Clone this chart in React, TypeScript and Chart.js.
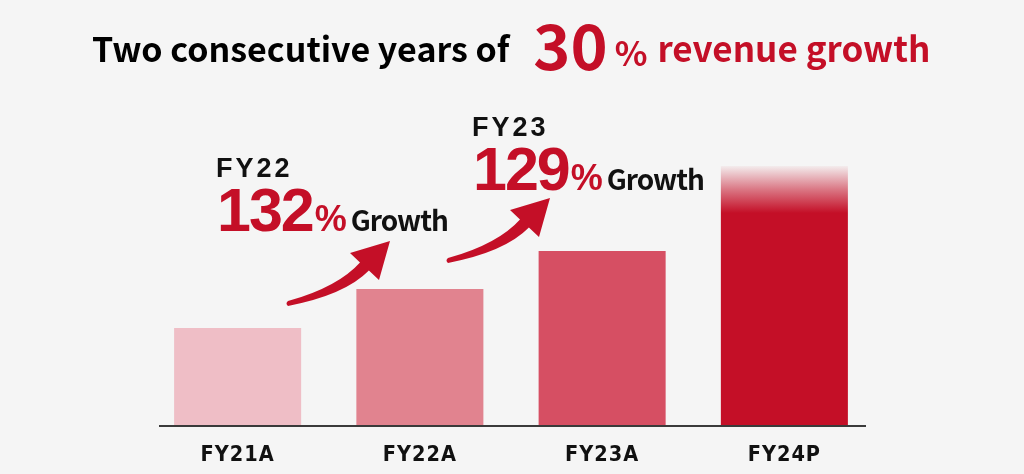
import React, { useEffect, useRef } from "react";
import { Chart, registerables } from "chart.js";

Chart.register(...registerables);

const categories = ["FY21A", "FY22A", "FY23A", "FY24P"];
const revenue = [97, 136, 174, 259];
const barColors = ["#efbec6", "#e1838f", "#d64f63", "#c40f27"];

const titleBlack = "Two consecutive years of";
const titleBig = "30";
const titlePct = "%";
const titleRed = "revenue growth";

const annYears = ["FY22", "FY23"];
const annGrowth = ["132", "129"];
const growthWord = "Growth";

const RED = "#c40f27";
const BG = "#f5f5f5";
const CJK = '"Noto Sans CJK JP", "Noto Sans", sans-serif';
const HEL = '"Liberation Sans", Arial, sans-serif';

function drawArrow(ctx: CanvasRenderingContext2D, x: number, y: number) {
  ctx.save();
  ctx.translate(x, y);
  ctx.fillStyle = RED;
  ctx.beginPath();
  ctx.moveTo(0, -2);
  ctx.quadraticCurveTo(50, -16, 72, -40.6);
  ctx.lineTo(62, -50);
  ctx.lineTo(102, -62);
  ctx.lineTo(91, -23);
  ctx.lineTo(80.9, -32.4);
  ctx.quadraticCurveTo(57, -8, 0, 3);
  ctx.quadraticCurveTo(-3, 0.5, 0, -2);
  ctx.closePath();
  ctx.fill();
  ctx.restore();
}

function drawAnnotation(ctx: CanvasRenderingContext2D, x: number, baseline: number, year: string, num: string) {
  const c = ctx as any;
  ctx.save();
  ctx.textBaseline = "alphabetic";
  ctx.textAlign = "left";
  ctx.fillStyle = "#111";
  ctx.font = `bold 27px ${HEL}`;
  c.letterSpacing = "3px";
  ctx.fillText(year, x - 1, baseline - 54);
  ctx.fillStyle = RED;
  ctx.font = `bold 61px ${HEL}`;
  c.letterSpacing = "-2px";
  ctx.fillText(num, x, baseline);
  const w1 = ctx.measureText(num).width;
  ctx.font = `bold 36px ${HEL}`;
  c.letterSpacing = "0px";
  ctx.fillText("%", x + w1 + 2, baseline);
  const w2 = ctx.measureText("%").width;
  ctx.fillStyle = "#111";
  ctx.font = `bold 28px ${CJK}`;
  c.letterSpacing = "-1px";
  ctx.fillText(growthWord, x + w1 + w2 + 6, baseline);
  ctx.restore();
}

const decorPlugin = {
  id: "decor",
  beforeDraw(chart: any) {
    const ctx = chart.ctx as CanvasRenderingContext2D;
    ctx.save();
    ctx.fillStyle = BG;
    ctx.fillRect(0, 0, chart.width, chart.height);
    ctx.restore();
    (ctx as any).letterSpacing = "1px";
  },
  beforeDatasetsDraw(chart: any) {
    (chart.ctx as any).letterSpacing = "0px";
  },
  afterDatasetsDraw(chart: any) {
    const ctx = chart.ctx as CanvasRenderingContext2D;
    (ctx as any).letterSpacing = "0px";
    const y0 = chart.scales.y.getPixelForValue(0);
    // axis line
    ctx.save();
    ctx.strokeStyle = "#3a3a3a";
    ctx.lineWidth = 2;
    ctx.beginPath();
    ctx.moveTo(159, y0 + 1);
    ctx.lineTo(866, y0 + 1);
    ctx.stroke();
    ctx.restore();

    // title
    ctx.save();
    ctx.textBaseline = "alphabetic";
    ctx.textAlign = "left";
    let x = 92;
    const base = 62;
    ctx.fillStyle = "#000";
    ctx.font = `bold 34px ${CJK}`;
    ctx.fillText(titleBlack, x, base);
    x += ctx.measureText(titleBlack).width + 24;
    ctx.fillStyle = RED;
    ctx.font = `bold 63px ${CJK}`;
    ctx.fillText(titleBig, x, 70);
    x += ctx.measureText(titleBig).width + 7;
    ctx.font = `bold 34px ${CJK}`;
    ctx.fillText(titlePct, x, base + 4);
    x += ctx.measureText(titlePct).width + 10;
    ctx.font = `bold 35px ${CJK}`;
    ctx.fillText(titleRed, x, base);
    ctx.restore();

    drawAnnotation(ctx, 217, 231, annYears[0], annGrowth[0]);
    drawAnnotation(ctx, 473, 190, annYears[1], annGrowth[1]);
    drawArrow(ctx, 288, 303);
    drawArrow(ctx, 448, 260);
  },
};

export default function App() {
  const ref = useRef<HTMLCanvasElement>(null);
  useEffect(() => {
    document.body.style.margin = "0";
    document.body.style.background = BG;
    const canvas = ref.current!;
    const chart = new Chart(canvas, {
      type: "bar",
      data: {
        labels: categories,
        datasets: [
          {
            data: revenue,
            backgroundColor: (c: any) => {
              const i = c.dataIndex;
              if (i !== 3) return barColors[i];
              const ys = c.chart.scales && c.chart.scales.y;
              if (!ys) return barColors[i];
              const top = ys.getPixelForValue(revenue[3]);
              const g = c.chart.ctx.createLinearGradient(0, top, 0, top + 47);
              g.addColorStop(0, "rgba(196,15,39,0.04)");
              g.addColorStop(0.5, "rgba(196,15,39,0.55)");
              g.addColorStop(1, RED);
              return g;
            },
            borderWidth: 0,
            categoryPercentage: 1,
            barPercentage: 0.697,
          },
        ],
      },
      options: {
        animation: false,
        responsive: false,
        maintainAspectRatio: false,
        layout: { padding: { left: 146.5, right: 148.5, top: 125, bottom: 0 } },
        plugins: { legend: { display: false }, tooltip: { enabled: false }, title: { display: false } },
        scales: {
          y: { display: false, min: 0, max: 300 },
          x: {
            grid: { display: false, drawTicks: false },
            border: { display: false },
            afterFit: (scale: any) => {
              scale.height = 49;
            },
            ticks: {
              color: "#111",
              padding: 18,
              font: {
                family: '"DejaVu Sans", sans-serif',
                weight: "bold condensed",
                size: 21.5,
                lineHeight: 1.2,
              },
            },
          },
        },
      },
      plugins: [decorPlugin],
    });
    return () => chart.destroy();
  }, []);
  return (
    <div style={{ width: 1024, height: 474, background: BG }}>
      <canvas ref={ref} width={1024} height={474} style={{ display: "block", width: 1024, height: 474 }} />
    </div>
  );
}
